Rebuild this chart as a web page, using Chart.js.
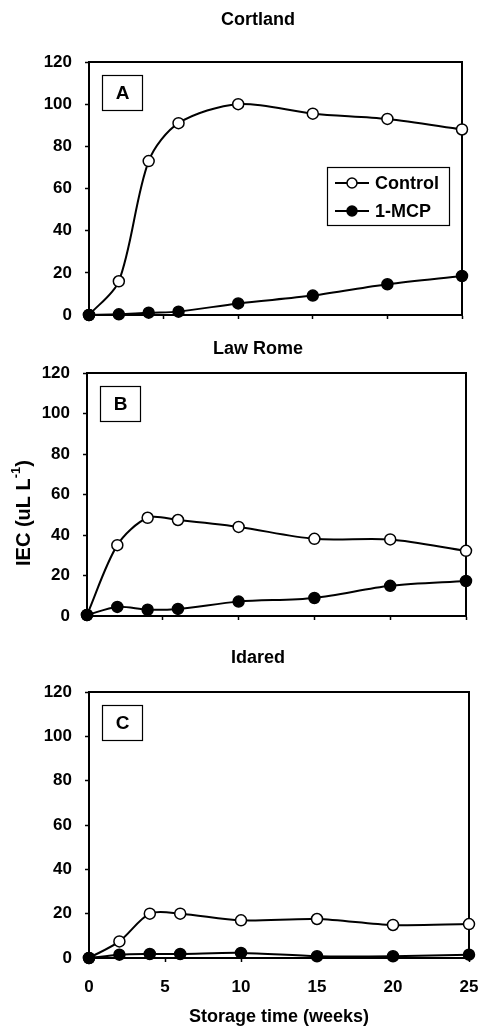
<!DOCTYPE html>
<html><head><meta charset="utf-8">
<script src="https://cdn.jsdelivr.net/npm/chart.js@4.4.1/dist/chart.umd.min.js"></script>
<style>
html,body{margin:0;padding:0;background:#fff;}
#wrap{position:relative;width:481px;height:1026px;overflow:hidden;background:#fff;}
canvas{position:absolute;left:0;}
</style></head><body>
<div id="wrap">
<canvas id="cA" width="481" height="330" style="top:0px"></canvas>
<canvas id="cB" width="481" height="300" style="top:330px"></canvas>
<canvas id="cC" width="481" height="396" style="top:630px"></canvas>
</div>
<script>
// ---- data ----
const weeks = [0, 2, 4, 6, 10, 15, 20, 25];
const seriesNames = ['Control', '1-MCP'];
const cortlandControl = [0, 16, 73, 91, 100, 95.5, 93, 88];
const cortlandMCP     = [0, 0.3, 1.1, 1.6, 5.5, 9.2, 14.6, 18.5];
const lawRomeControl  = [0.5, 35, 48.5, 47.4, 44, 38.1, 37.8, 32.2];
const lawRomeMCP      = [0.5, 4.5, 3.1, 3.5, 7.1, 8.9, 14.9, 17.3];
const idaredControl   = [0, 7.5, 20, 20, 17, 17.6, 14.9, 15.3];
const idaredMCP       = [0, 1.5, 1.8, 1.8, 2.3, 0.8, 0.8, 1.5];
const cultivars = ['Cortland', 'Law Rome', 'Idared'];
const panelLetters = ['A', 'B', 'C'];
const yMin = 0, yMax = 120, yStep = 20;
const xMin = 0, xMax = 25, xStep = 5;
const xTitle = 'Storage time (weeks)';
const yTitleMain = 'IEC (uL L';
const yTitleSup = '-1';
const yTitleEnd = ')';

const FONT = "'Liberation Sans', Arial, Helvetica, sans-serif";
Chart.defaults.font.family = FONT;
Chart.defaults.color = '#000';

function pts(vals) { return weeks.map((w, i) => ({x: w, y: vals[i]})); }

const decoPlugin = {
  id: 'deco',
  beforeDatasetsDraw(chart, args, o) {
    const {ctx, chartArea: a} = chart;
    ctx.save();
    ctx.strokeStyle = '#000';
    ctx.lineWidth = 2;
    ctx.strokeRect(a.left, a.top, a.right - a.left, a.bottom - a.top);
    ctx.restore();
  },
  afterDraw(chart, args, o) {
    const {ctx, chartArea: a} = chart;
    ctx.save();
    // panel title
    ctx.fillStyle = '#000';
    ctx.font = 'bold 18px ' + FONT;
    ctx.textAlign = 'center';
    ctx.textBaseline = 'middle';
    ctx.fillText(o.title, o.titleX, o.titleY);
    // letter box
    ctx.lineWidth = 1.2;
    ctx.strokeStyle = '#000';
    ctx.fillStyle = '#fff';
    ctx.fillRect(a.left + 13, a.top + 13, 40, 35);
    ctx.strokeRect(a.left + 13.5, a.top + 13.5, 40, 35);
    ctx.fillStyle = '#000';
    ctx.font = 'bold 19px ' + FONT;
    ctx.fillText(o.letter, a.left + 33.5, a.top + 32);
    // legend
    if (o.legend) {
      const bx = a.right - 135, by = a.top + 105, bw = 122, bh = 58;
      ctx.fillStyle = '#fff';
      ctx.fillRect(bx, by, bw, bh);
      ctx.lineWidth = 1.2;
      ctx.strokeRect(bx + 0.5, by + 0.5, bw, bh);
      chart.data.datasets.forEach((ds, i) => {
        const ry = by + 16 + i * 28;
        ctx.strokeStyle = '#000';
        ctx.lineWidth = 2;
        ctx.beginPath();
        ctx.moveTo(bx + 8, ry); ctx.lineTo(bx + 42, ry);
        ctx.stroke();
        ctx.beginPath();
        ctx.arc(bx + 25, ry, 5, 0, Math.PI * 2);
        ctx.fillStyle = ds.pointBackgroundColor;
        ctx.fill();
        ctx.lineWidth = 1.5;
        ctx.stroke();
        ctx.fillStyle = '#000';
        ctx.font = 'bold 18px ' + FONT;
        ctx.textAlign = 'left';
        ctx.textBaseline = 'middle';
        ctx.fillText(ds.label, bx + 48, ry + 1);
      });
    }
    // y-axis title with superscript
    if (o.yTitle) {
      ctx.translate(o.yTitleX, o.yTitleY);
      ctx.rotate(-Math.PI / 2);
      ctx.fillStyle = '#000';
      ctx.textAlign = 'left';
      ctx.textBaseline = 'middle';
      const f1 = 'bold 20px ' + FONT, f2 = 'bold 13px ' + FONT;
      ctx.font = f1; const w1 = ctx.measureText(yTitleMain).width;
      const w3 = ctx.measureText(yTitleEnd).width;
      ctx.font = f2; const w2 = ctx.measureText(yTitleSup).width;
      let x = -(w1 + w2 + w3) / 2;
      ctx.font = f1; ctx.fillText(yTitleMain, x, 0); x += w1;
      ctx.font = f2; ctx.fillText(yTitleSup, x, -8); x += w2;
      ctx.font = f1; ctx.fillText(yTitleEnd, x, 0);
    }
    ctx.restore();
  }
};

function makeChart(id, idx, control, mcp, cfg) {
  return new Chart(document.getElementById(id), {
    type: 'line',
    data: {
      datasets: [
        {label: seriesNames[0], data: pts(control), order: 1,
         borderColor: '#000', borderWidth: 2, tension: 0.3,
         pointBackgroundColor: '#fff', pointBorderColor: '#000',
         pointBorderWidth: 1.5, pointRadius: 5.5, clip: false},
        {label: seriesNames[1], data: pts(mcp), order: 0,
         borderColor: '#000', borderWidth: 2, tension: 0.3,
         pointBackgroundColor: '#000', pointBorderColor: '#000',
         pointBorderWidth: 1.5, pointRadius: 5.5, clip: false}
      ]
    },
    options: {
      responsive: false,
      animation: false,
      events: [],
      layout: {padding: cfg.padding},
      plugins: {
        legend: {display: false},
        tooltip: {enabled: false},
        title: {display: false},
        deco: {
          title: cultivars[idx], titleX: 258, titleY: cfg.titleY,
          letter: panelLetters[idx], legend: !!cfg.legend,
          yTitle: !!cfg.yTitle, yTitleX: 24, yTitleY: cfg.yTitleY
        }
      },
      scales: {
        x: {
          type: 'linear', min: xMin, max: xMax,
          afterFit(s) { s.height = cfg.xHeight; s.paddingLeft = 0; s.paddingRight = 0; },
          border: {display: true, color: '#000', width: 2},
          grid: {drawOnChartArea: false, drawTicks: true, tickLength: 4,
                 tickColor: '#000', tickWidth: 1.5},
          ticks: {display: !!cfg.xLabels, stepSize: xStep, padding: 15,
                  font: {size: 17, weight: 'bold'}, color: '#000', maxRotation: 0},
          title: {display: !!cfg.xLabels, text: xTitle, color: '#000',
                  font: {size: 18, weight: 'bold', lineHeight: 1.0}, padding: {top: 4, bottom: 0}}
        },
        y: {
          min: yMin, max: yMax,
          afterFit(s) { s.width = 60; s.paddingTop = 0; s.paddingBottom = 0; },
          border: {display: true, color: '#000', width: 2},
          grid: {drawOnChartArea: false, drawTicks: true, tickLength: 4,
                 tickColor: '#000', tickWidth: 1.5},
          ticks: {stepSize: yStep, padding: 13, font: {size: 17, weight: 'bold'}, color: '#000'}
        }
      }
    },
    plugins: [decoPlugin]
  });
}

makeChart('cA', 0, cortlandControl, cortlandMCP,
  {padding: {left: 29, right: 19, top: 62, bottom: 5}, xHeight: 10, titleY: 20, legend: true});
makeChart('cB', 1, lawRomeControl, lawRomeMCP,
  {padding: {left: 27, right: 15, top: 43, bottom: 4}, xHeight: 10, titleY: 19,
   yTitle: true, yTitleY: 183});
makeChart('cC', 2, idaredControl, idaredMCP,
  {padding: {left: 29, right: 12, top: 62, bottom: 0}, xHeight: 68, titleY: 28, xLabels: true});
</script>
</body></html>
